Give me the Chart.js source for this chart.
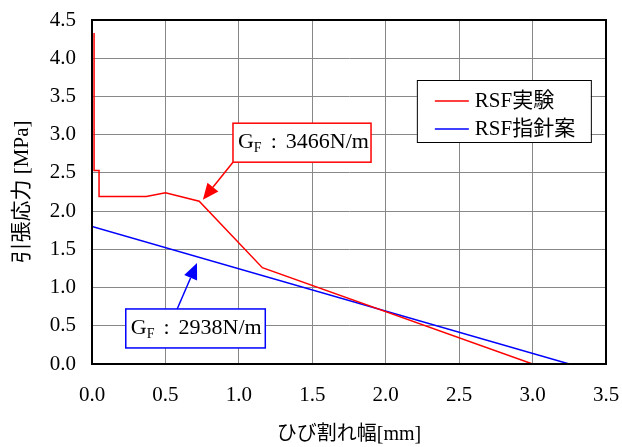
<!DOCTYPE html>
<html>
<head>
<meta charset="utf-8">
<script src="https://cdn.jsdelivr.net/npm/chart.js@4.4.0/dist/chart.umd.min.js"></script>
<style>
  html, body { margin: 0; padding: 0; background: #fff; }
  #wrap { width: 622px; height: 447px; }
</style>
</head>
<body>
<div id="wrap"><canvas id="myChart" width="622" height="447"></canvas></div>
<script>
// crack width [mm] vs tensile stress [MPa]
var expX = [0.014, 0.014, 0.048, 0.048, 0.37, 0.50, 0.73, 1.16, 3.00];
var expY = [4.33, 2.53, 2.53, 2.19, 2.19, 2.24, 2.13, 1.26, 0.00];
var guideX = [0.0, 3.25];
var guideY = [1.80, 0.00];

var seriesLabels = ['RSF実験', 'RSF指針案'];
var seriesColors = ['#ff0000', '#0000ff'];

var xTitle = 'ひび割れ幅[mm]';
var yTitle = '引張応力 [MPa]';

// callout boxes, in data units
var notes = [
  { value: '3466N/m', color: '#ff0000', box: [0.96, 3.15, 1.90, 2.64], from: [0.96, 2.64], tip: [0.755, 2.15] },
  { value: '2938N/m', color: '#0000ff', box: [0.23, 0.72, 1.18, 0.21], from: [0.58, 0.72], tip: [0.715, 1.32] }
];

function toPoints(xs, ys) {
  return xs.map(function (x, i) { return { x: x, y: ys[i] }; });
}

var serif = "'Liberation Serif', 'Times New Roman', serif";
var jp = "'Liberation Serif', 'Noto Sans CJK JP', serif";

function arrow(ctx, x1, y1, x2, y2, color) {
  var ang = Math.atan2(y2 - y1, x2 - x1);
  var len = 16, half = 7;
  var bx = x2 - len * Math.cos(ang), by = y2 - len * Math.sin(ang);
  ctx.strokeStyle = color;
  ctx.lineWidth = 1.5;
  ctx.beginPath();
  ctx.moveTo(x1, y1);
  ctx.lineTo(bx, by);
  ctx.stroke();
  ctx.fillStyle = color;
  ctx.beginPath();
  ctx.moveTo(x2, y2);
  ctx.lineTo(bx + half * Math.sin(ang), by - half * Math.cos(ang));
  ctx.lineTo(bx - half * Math.sin(ang), by + half * Math.cos(ang));
  ctx.closePath();
  ctx.fill();
}

var extras = {
  id: 'extras',
  afterDatasetsDraw: function (chart) {
    var ctx = chart.ctx, a = chart.chartArea;
    var xs = chart.scales.x, ys = chart.scales.y;
    ctx.save();
    // frame
    ctx.strokeStyle = '#000';
    ctx.lineWidth = 2;
    ctx.strokeRect(a.left, a.top, a.right - a.left, a.bottom - a.top);

    // legend box
    var lx = a.left + (a.right - a.left) * 0.632, ly = a.top + 60;
    ctx.fillStyle = '#fff';
    ctx.fillRect(lx, ly, 174, 62);
    ctx.strokeStyle = '#000';
    ctx.lineWidth = 1;
    ctx.strokeRect(lx + 0.5, ly + 0.5, 174, 62);
    ctx.font = '21px ' + jp;
    ctx.textBaseline = 'middle';
    seriesLabels.forEach(function (lab, i) {
      var yy = ly + 21 + i * 28;
      ctx.strokeStyle = seriesColors[i];
      ctx.lineWidth = 1.5;
      ctx.beginPath();
      ctx.moveTo(lx + 18, yy);
      ctx.lineTo(lx + 52, yy);
      ctx.stroke();
      ctx.fillStyle = '#000';
      ctx.textAlign = 'left';
      ctx.fillText(lab, lx + 58, yy);
    });

    // callouts
    notes.forEach(function (n) {
      var x0 = xs.getPixelForValue(n.box[0]), y0 = ys.getPixelForValue(n.box[1]);
      var x1 = xs.getPixelForValue(n.box[2]), y1 = ys.getPixelForValue(n.box[3]);
      arrow(ctx, xs.getPixelForValue(n.from[0]), ys.getPixelForValue(n.from[1]),
        xs.getPixelForValue(n.tip[0]), ys.getPixelForValue(n.tip[1]), n.color);
      ctx.fillStyle = '#fff';
      ctx.fillRect(x0, y0, x1 - x0, y1 - y0);
      ctx.strokeStyle = n.color;
      ctx.lineWidth = 1.5;
      ctx.strokeRect(x0, y0, x1 - x0, y1 - y0);
      var cy = (y0 + y1) / 2;
      var tx = x0 + 5;
      ctx.fillStyle = '#000';
      ctx.textAlign = 'left';
      ctx.textBaseline = 'middle';
      ctx.font = '22px ' + serif;
      ctx.fillText('G', tx, cy);
      tx += ctx.measureText('G').width;
      ctx.font = '14px ' + serif;
      ctx.fillText('F', tx, cy + 6);
      tx += ctx.measureText('F').width + 9;
      ctx.font = '22px ' + serif;
      ctx.fillText(':', tx, cy);
      tx += ctx.measureText(':').width + 9;
      ctx.fillText(n.value, tx, cy);
    });
    ctx.restore();
  }
};

var ctx = document.getElementById('myChart').getContext('2d');
var myChart = new Chart(ctx, {
  type: 'scatter',
  data: {
    datasets: [{
      label: seriesLabels[0],
      data: toPoints(expX, expY),
      showLine: true,
      borderColor: seriesColors[0],
      borderWidth: 1.5,
      pointRadius: 0,
      tension: 0
    }, {
      label: seriesLabels[1],
      data: toPoints(guideX, guideY),
      showLine: true,
      borderColor: seriesColors[1],
      borderWidth: 1.5,
      pointRadius: 0,
      tension: 0
    }]
  },
  options: {
    responsive: false,
    animation: false,
    layout: { padding: { top: 20, right: 16, left: 0, bottom: 0 } },
    plugins: {
      legend: { display: false },
      tooltip: { enabled: false }
    },
    scales: {
      x: {
        type: 'linear',
        min: 0, max: 3.5,
        ticks: {
          stepSize: 0.5,
          color: '#000',
          padding: 19,
          font: { family: serif, size: 21 },
          callback: function (v) { return v.toFixed(1); }
        },
        grid: { color: '#888', lineWidth: 1, drawTicks: false },
        border: { color: '#000', width: 2 },
        title: {
          display: true,
          text: xTitle,
          color: '#000',
          font: { family: jp, size: 20 },
          padding: { top: 15, bottom: 0 }
        },
        afterFit: function (s) { s.height = 83; s.paddingLeft = 0; s.paddingRight = 0; }
      },
      y: {
        min: 0, max: 4.5,
        ticks: {
          stepSize: 0.5,
          color: '#000',
          padding: 16,
          font: { family: serif, size: 21 },
          callback: function (v) { return v.toFixed(1); }
        },
        grid: { color: '#888', lineWidth: 1, drawTicks: false },
        border: { color: '#000', width: 2 },
        title: {
          display: true,
          text: yTitle,
          color: '#000',
          font: { family: jp, size: 21 },
          padding: { top: 10, bottom: 0 }
        },
        afterFit: function (s) { s.width = 92; s.paddingTop = 0; s.paddingBottom = 0; }
      }
    }
  },
  plugins: [extras]
});
</script>
</body>
</html>
